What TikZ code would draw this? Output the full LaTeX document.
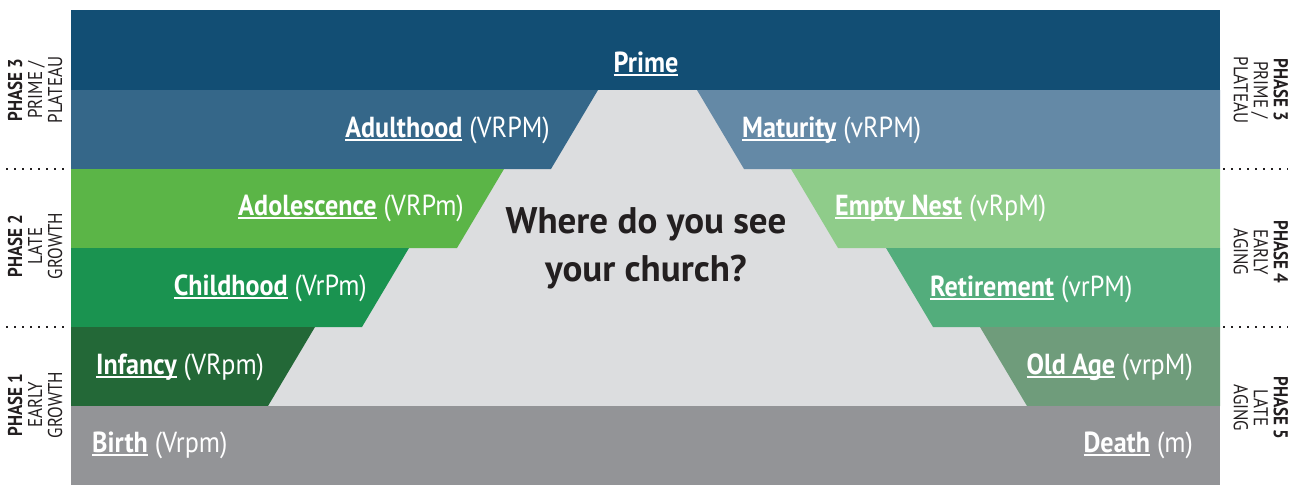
\documentclass[tikz,border=0pt]{standalone}
\usepackage{fontspec}
\setmainfont{PT Sans}
\newfontfamily\stagefont[FakeStretch=0.9]{PT Sans}
\newfontfamily\phasefont[FakeStretch=0.85]{PT Sans}

\definecolor{primeblue}{HTML}{124E74}
\definecolor{adultblue}{HTML}{356789}
\definecolor{maturegray}{HTML}{6489A6}
\definecolor{teengreen}{HTML}{5BB547}
\definecolor{childgreen}{HTML}{1A9350}
\definecolor{infantgreen}{HTML}{236837}
\definecolor{nestgreen}{HTML}{8FCC8A}
\definecolor{retiregreen}{HTML}{53AD7C}
\definecolor{oldgreen}{HTML}{6F9C7B}
\definecolor{endgray}{HTML}{939497}
\definecolor{hillgray}{HTML}{DCDDDF}
\definecolor{inkgray}{HTML}{231F20}

\newsavebox\stagebox
\newcommand{\stagename}[1]{\sbox\stagebox{\bfseries #1}\rlap{\rule[-0.13em]{\wd\stagebox}{0.06em}}\usebox\stagebox}

\tikzset{
	stagelabel/.style={text=white, inner sep=0pt, font=\stagefont\fontsize{29}{34}\selectfont},
	phaselabel/.style={text=inkgray, align=center, inner sep=0pt, font=\phasefont\fontsize{20}{20}\selectfont},
	phaseline/.style={inkgray, line width=1.6pt, dash pattern=on 1.5pt off 6.5pt}
}

\begin{document}
\begin{tikzpicture}[x=1pt,y=-1pt]
	\useasboundingbox (0,0) rectangle (1312,488);

	% bands
	\fill[hillgray] (71,10) rectangle (1220,485);
	\fill[primeblue] (71,10) rectangle (1220,90);
	\fill[adultblue] (71,90) -- (598,90) -- (551,169) -- (71,169) -- cycle;
	\fill[maturegray] (697,90) -- (1220,90) -- (1220,169) -- (744,169) -- cycle;
	\fill[teengreen] (71,169) -- (504,169) -- (457,248) -- (71,248) -- cycle;
	\fill[nestgreen] (791,169) -- (1220,169) -- (1220,248) -- (838,248) -- cycle;
	\fill[childgreen] (71,248) -- (409,248) -- (362,327) -- (71,327) -- cycle;
	\fill[retiregreen] (886,248) -- (1220,248) -- (1220,327) -- (933,327) -- cycle;
	\fill[infantgreen] (71,327) -- (315,327) -- (268,406) -- (71,406) -- cycle;
	\fill[oldgreen] (980,327) -- (1220,327) -- (1220,406) -- (1027,406) -- cycle;
	\fill[endgray] (71,406) rectangle (1220,485);

	% stages
	\node[stagelabel, anchor=base] (prime) at (646,72) {\stagename{Prime}};
	\node[stagelabel, anchor=base east] (adulthood) at (550,137) {\stagename{Adulthood} (VRPM)};
	\node[stagelabel, anchor=base west] (maturity) at (742,137) {\stagename{Maturity} (vRPM)};
	\node[stagelabel, anchor=base east] (adolescence) at (464,215) {\stagename{Adolescence} (VRPm)};
	\node[stagelabel, anchor=base west] (emptynest) at (835,215) {\stagename{Empty Nest} (vRpM)};
	\node[stagelabel, anchor=base east] (childhood) at (367,295) {\stagename{Childhood} (VrPm)};
	\node[stagelabel, anchor=base west] (retirement) at (930,296) {\stagename{Retirement} (vrPM)};
	\node[stagelabel, anchor=base west] (infancy) at (96,374) {\stagename{Infancy} (VRpm)};
	\node[stagelabel, anchor=base east] (oldage) at (1193,374) {\stagename{Old Age} (vrpM)};
	\node[stagelabel, anchor=base west] (birth) at (92,452) {\stagename{Birth} (Vrpm)};
	\node[stagelabel, anchor=base east] (death) at (1193,452) {\stagename{Death} (m)};

	\node[align=center, text=inkgray, font=\bfseries\fontsize{37}{48}\selectfont] (question) at (646,248) {Where do you see\\your church?};

	% phases
	\node[phaselabel, rotate=90] (phase3l) at (35,90) {\textbf{PHASE 3}\\PRIME /\\PLATEAU};
	\node[phaselabel, rotate=90] (phase2l) at (35,246) {\textbf{PHASE 2}\\LATE\\GROWTH};
	\node[phaselabel, rotate=90] (phase1l) at (35,405) {\textbf{PHASE 1}\\EARLY\\GROWTH};
	\node[phaselabel, rotate=-90] (phase3r) at (1261,90) {\textbf{PHASE 3}\\PRIME /\\PLATEAU};
	\node[phaselabel, rotate=-90] (phase4r) at (1261,252) {\textbf{PHASE 4}\\EARLY\\AGING};
	\node[phaselabel, rotate=-90] (phase5r) at (1261,408) {\textbf{PHASE 5}\\LATE\\AGING};

	\coordinate (cut1l) at (6,169);
	\coordinate (cut1r) at (70,169);
	\coordinate (cut2l) at (6,327);
	\coordinate (cut2r) at (70,327);
	\coordinate (cut3l) at (1223,169);
	\coordinate (cut3r) at (1288,169);
	\coordinate (cut4l) at (1223,327);
	\coordinate (cut4r) at (1288,327);
	\draw[phaseline] (cut1l) -- (cut1r);
	\draw[phaseline] (cut2l) -- (cut2r);
	\draw[phaseline] (cut3l) -- (cut3r);
	\draw[phaseline] (cut4l) -- (cut4r);

\end{tikzpicture}
\end{document}
